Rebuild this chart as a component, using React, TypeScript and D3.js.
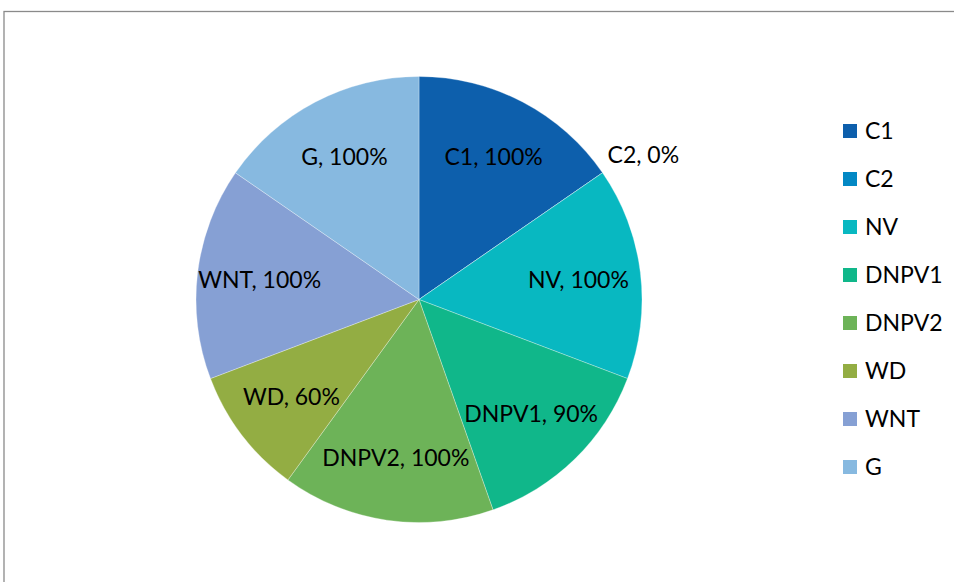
import React from "react";
import * as d3 from "d3";

const categories = ["C1", "C2", "NV", "DNPV1", "DNPV2", "WD", "WNT", "G"];
const values = [100, 0, 100, 90, 100, 60, 100, 100];
const labels = ["100%", "0%", "100%", "90%", "100%", "60%", "100%", "100%"];
const colors = ["#0D5FAC", "#0388C4", "#08B8C1", "#10B78A", "#6DB358", "#93AD43", "#86A0D4", "#87B9E0"];

const W = 954;
const H = 582;
const cx = 419;
const cy = 299.5;
const R = 223;
const FONT = "Lato, 'Open Sans', sans-serif";
const FS = 23;

export default function App() {
  const data = categories.map((c, i) => ({ c, v: values[i], l: labels[i], col: colors[i] }));
  const pie = d3.pie<any>().value((d) => d.v).sort(null);
  const arcs = pie(data);
  const arc = d3.arc<any>().innerRadius(0).outerRadius(R);
  const labelArc = d3.arc<any>().innerRadius(R * 0.72).outerRadius(R * 0.72);

  const legendX = 843;
  const legendY0 = 131;
  const legendStep = 48;

  const approxW = (s: string) => s.length * FS * 0.52;

  return (
    <div style={{ position: "absolute", left: 0, top: 0 }}>
      <svg width={W} height={H} style={{ display: "block" }}>
        <rect x={0} y={0} width={W} height={H} fill="#fff" />
        <rect x={4} y={11.5} width={W + 20} height={H + 20} fill="none" stroke="#8a8a8a" strokeWidth={1.3} />
        <g transform={`translate(${cx},${cy})`}>
          {arcs.map((a, i) => (
            <path key={i} d={arc(a) || ""} fill={a.data.col} stroke="#ffffff" strokeWidth={0.6} strokeOpacity={0.5} />
          ))}
          {arcs.map((a, i) => {
            const text = `${a.data.c}, ${a.data.l}`;
            if (a.data.v === 0) {
              const mid = a.startAngle;
              const ox = Math.sin(mid) * R;
              const oy = -Math.cos(mid) * R;
              return (
                <text key={"l" + i} x={ox + 5} y={oy - 18} dy="0.35em" textAnchor="start" fontFamily={FONT} fontSize={FS} fill="#000">
                  {text}
                </text>
              );
            }
            let [x, y] = labelArc.centroid(a);
            const hw = approxW(text) / 2 + 6;
            const lim = Math.sqrt(Math.max(0, R * R - (Math.abs(y) + 10) ** 2));
            if (x + hw > lim) x = lim - hw;
            if (x - hw < -lim) x = -lim + hw;
            return (
              <text key={"l" + i} x={x} y={y} dy="0.35em" textAnchor="middle" fontFamily={FONT} fontSize={FS} fill="#000">
                {text}
              </text>
            );
          })}
        </g>
        <g>
          {data.map((d, i) => (
            <g key={d.c} transform={`translate(${legendX},${legendY0 + i * legendStep})`}>
              <rect x={0} y={-7} width={14} height={14} fill={d.col} />
              <text x={22} y={0} dy="0.35em" fontFamily={FONT} fontSize={FS} fill="#000">
                {d.c}
              </text>
            </g>
          ))}
        </g>
      </svg>
    </div>
  );
}
